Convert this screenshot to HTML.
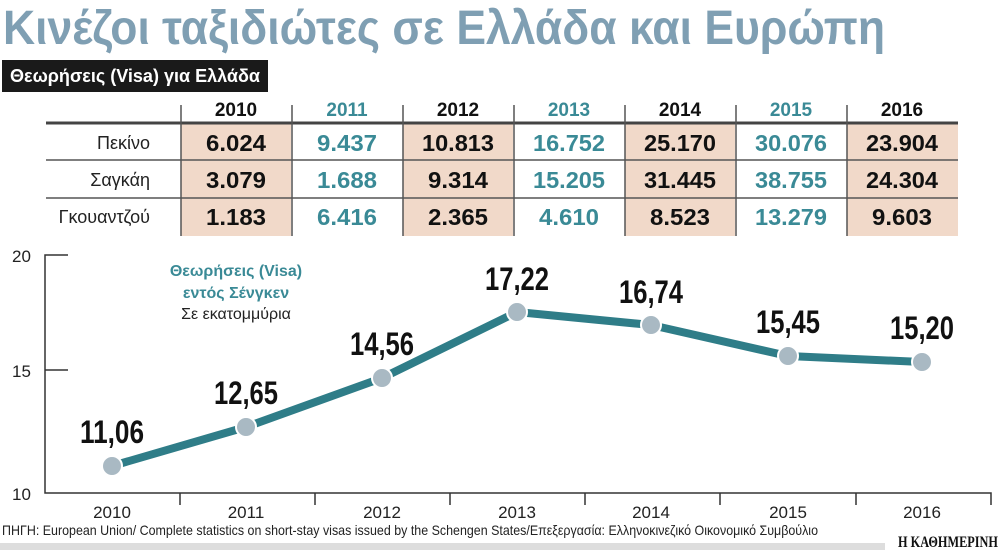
<!DOCTYPE html>
<html><head><meta charset="utf-8"><style>
body{margin:0;background:#fff;width:1000px;height:550px;overflow:hidden;position:relative;font-family:"Liberation Sans",sans-serif}
</style></head><body>
<svg width="1000" height="550" style="position:absolute;left:0;top:0">
<text x="3" y="44" font-family="Liberation Sans" font-weight="bold" font-size="48" fill="#7f9fb3" textLength="882" lengthAdjust="spacingAndGlyphs">Κινέζοι ταξιδιώτες σε Ελλάδα και Ευρώπη</text>
<rect x="2" y="60" width="266" height="32" fill="#1a1a1a"/>
<text x="10" y="82" font-family="Liberation Sans" font-weight="bold" font-size="18" fill="#fff" textLength="250" lengthAdjust="spacingAndGlyphs">Θεωρήσεις (Visa) για Ελλάδα</text>
<g fill="#f1d9c9">
<rect x="181" y="124" width="110" height="112"/><rect x="403" y="124" width="110" height="112"/><rect x="625" y="124" width="110" height="112"/><rect x="847" y="124" width="111" height="112"/>
</g>
<line x1="46" y1="123" x2="958" y2="123" stroke="#444" stroke-width="3"/>
<line x1="46" y1="160" x2="958" y2="160" stroke="#555" stroke-width="1.5"/>
<line x1="46" y1="198" x2="958" y2="198" stroke="#555" stroke-width="1.5"/>
<g stroke="#555" stroke-width="1.5">
<line x1="181" y1="105" x2="181" y2="236"/><line x1="292" y1="105" x2="292" y2="236"/><line x1="403" y1="105" x2="403" y2="236"/><line x1="514" y1="105" x2="514" y2="236"/><line x1="625" y1="105" x2="625" y2="236"/><line x1="736" y1="105" x2="736" y2="236"/><line x1="847" y1="105" x2="847" y2="236"/>
</g>
<g font-family="Liberation Sans" font-weight="bold" font-size="19" text-anchor="middle">
<text x="236" y="116" fill="#111">2010</text><text x="347" y="116" fill="#3a8a96">2011</text><text x="458" y="116" fill="#111">2012</text><text x="569" y="116" fill="#3a8a96">2013</text><text x="680" y="116" fill="#111">2014</text><text x="791" y="116" fill="#3a8a96">2015</text><text x="902" y="116" fill="#111">2016</text>
</g>
<g font-family="Liberation Sans" font-size="18" text-anchor="end" fill="#222">
<text x="150" y="149">Πεκίνο</text><text x="150" y="186">Σαγκάη</text><text x="150" y="223">Γκουαντζού</text>
</g>
<g font-family="Liberation Sans" font-weight="bold" font-size="23" text-anchor="middle" lengthAdjust="spacingAndGlyphs">
<g fill="#111"><text x="236" y="151" textLength="60" lengthAdjust="spacingAndGlyphs">6.024</text><text x="236" y="188" textLength="60" lengthAdjust="spacingAndGlyphs">3.079</text><text x="236" y="225" textLength="60" lengthAdjust="spacingAndGlyphs">1.183</text>
<text x="458" y="151" textLength="72" lengthAdjust="spacingAndGlyphs">10.813</text><text x="458" y="188" textLength="60" lengthAdjust="spacingAndGlyphs">9.314</text><text x="458" y="225" textLength="60" lengthAdjust="spacingAndGlyphs">2.365</text>
<text x="680" y="151" textLength="72" lengthAdjust="spacingAndGlyphs">25.170</text><text x="680" y="188" textLength="72" lengthAdjust="spacingAndGlyphs">31.445</text><text x="680" y="225" textLength="60" lengthAdjust="spacingAndGlyphs">8.523</text>
<text x="902" y="151" textLength="72" lengthAdjust="spacingAndGlyphs">23.904</text><text x="902" y="188" textLength="72" lengthAdjust="spacingAndGlyphs">24.304</text><text x="902" y="225" textLength="60" lengthAdjust="spacingAndGlyphs">9.603</text></g>
<g fill="#3a8a96"><text x="347" y="151" textLength="60" lengthAdjust="spacingAndGlyphs">9.437</text><text x="347" y="188" textLength="60" lengthAdjust="spacingAndGlyphs">1.688</text><text x="347" y="225" textLength="60" lengthAdjust="spacingAndGlyphs">6.416</text>
<text x="569" y="151" textLength="72" lengthAdjust="spacingAndGlyphs">16.752</text><text x="569" y="188" textLength="72" lengthAdjust="spacingAndGlyphs">15.205</text><text x="569" y="225" textLength="60" lengthAdjust="spacingAndGlyphs">4.610</text>
<text x="791" y="151" textLength="72" lengthAdjust="spacingAndGlyphs">30.076</text><text x="791" y="188" textLength="72" lengthAdjust="spacingAndGlyphs">38.755</text><text x="791" y="225" textLength="72" lengthAdjust="spacingAndGlyphs">13.279</text></g>
</g>
<g stroke="#333" stroke-width="1.5" fill="none">
<polyline points="68,255 45,255 45,493 991,493 991,505"/>
<line x1="45" y1="370" x2="68" y2="370"/>
<line x1="180" y1="493" x2="180" y2="505"/><line x1="315" y1="493" x2="315" y2="505"/><line x1="450" y1="493" x2="450" y2="505"/><line x1="585" y1="493" x2="585" y2="505"/><line x1="720" y1="493" x2="720" y2="505"/><line x1="856" y1="493" x2="856" y2="505"/>
</g>
<g font-family="Liberation Sans" font-size="17" fill="#222">
<text x="12" y="262">20</text><text x="12" y="377">15</text><text x="12" y="500">10</text>
</g>
<g font-family="Liberation Sans" font-size="17" fill="#222" text-anchor="middle">
<text x="112" y="518">2010</text><text x="246" y="518">2011</text><text x="382" y="518">2012</text><text x="517" y="518">2013</text><text x="651" y="518">2014</text><text x="788" y="518">2015</text><text x="922" y="518">2016</text>
</g>
<polyline points="112,466 246,427 382,378 517,312 651,325 788,356 922,362" fill="none" stroke="#2f7d88" stroke-width="8" stroke-linejoin="round"/>
<g fill="#a9b9c3" stroke="#fff" stroke-width="2">
<circle cx="112" cy="466" r="10"/><circle cx="246" cy="427" r="10"/><circle cx="382" cy="378" r="10"/><circle cx="517" cy="312" r="10"/><circle cx="651" cy="325" r="10"/><circle cx="788" cy="356" r="10"/><circle cx="922" cy="362" r="10"/>
</g>
<g font-family="Liberation Sans" font-weight="bold" font-size="32" fill="#111" text-anchor="middle">
<text x="112" y="443" textLength="64" lengthAdjust="spacingAndGlyphs">11,06</text><text x="246" y="404" textLength="64" lengthAdjust="spacingAndGlyphs">12,65</text><text x="382" y="355" textLength="64" lengthAdjust="spacingAndGlyphs">14,56</text><text x="517" y="290" textLength="64" lengthAdjust="spacingAndGlyphs">17,22</text><text x="651" y="303" textLength="64" lengthAdjust="spacingAndGlyphs">16,74</text><text x="788" y="333" textLength="64" lengthAdjust="spacingAndGlyphs">15,45</text><text x="922" y="339" textLength="64" lengthAdjust="spacingAndGlyphs">15,20</text>
</g>
<g font-family="Liberation Sans" font-size="16" text-anchor="middle">
<text x="236" y="276" fill="#3a8a96" font-weight="bold">Θεωρήσεις (Visa)</text>
<text x="236" y="298" fill="#3a8a96" font-weight="bold">εντός Σένγκεν</text>
<text x="236" y="319" fill="#222">Σε εκατομμύρια</text>
</g>
<rect x="0" y="543" width="885" height="7" fill="#ddd"/>
<text x="2" y="535" font-family="Liberation Sans" font-size="14" fill="#222" textLength="816" lengthAdjust="spacingAndGlyphs">ΠΗΓΗ: European Union/ Complete statistics on short-stay visas issued by the Schengen States/Επεξεργασία: Ελληνοκινεζικό Οικονομικό Συμβούλιο</text>
<text x="998" y="547" text-anchor="end" font-family="Liberation Serif" font-weight="bold" font-size="16" fill="#111" textLength="100" lengthAdjust="spacingAndGlyphs">Η ΚΑΘΗΜΕΡΙΝΗ</text>
</svg>
</body></html>
